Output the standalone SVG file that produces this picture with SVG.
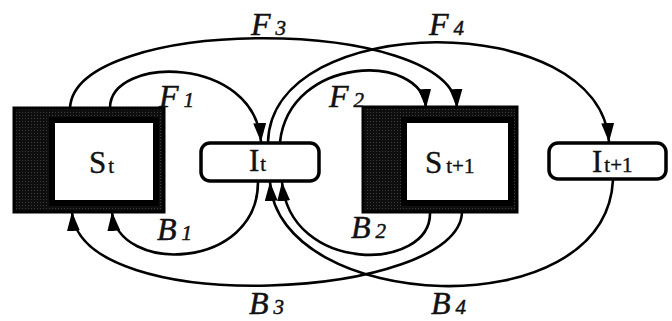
<svg xmlns="http://www.w3.org/2000/svg" width="672" height="321" viewBox="0 0 672 321">
  <style>
    .conn { fill: none; stroke: #000; stroke-width: 2.6; marker-end: url(#ah); }
    .frame { fill: url(#stip); stroke: #000; stroke-width: 3; }
    .inner { fill: #fff; stroke: #000; stroke-width: 6; }
    .ibox { fill: #fff; stroke: #000; stroke-width: 3.5; }
    .lbl { font-family: "Liberation Serif", "DejaVu Serif", serif; font-size: 31px; fill: #111; stroke: #111; stroke-width: 0.4; }
    .sub { font-size: 21px; }
    .el { font-family: "Liberation Serif", "DejaVu Serif", serif; font-style: italic; font-size: 32px; fill: #111; stroke: #111; stroke-width: 0.5; }
    .es { font-size: 21px; }
  </style>
  <defs>
    <pattern id="stip" width="3" height="3" patternUnits="userSpaceOnUse">
      <rect width="3" height="3" fill="#0e0e0e"/>
      <rect x="1" y="1" width="1" height="1" fill="#3c3c3c"/>
    </pattern>
    <marker id="ah" markerUnits="userSpaceOnUse" markerWidth="20" markerHeight="14" refX="19" refY="6.5" orient="auto">
      <path d="M0,0 L19,6.5 L0,13 z" fill="#000"/>
    </marker>
  </defs>

  <g id="connectors">
    <path id="F1" class="conn" d="M110,108 C110,55 255,55 261,142"/>
    <path id="F3" class="conn" d="M70,108 C75,15 452,15 457,108"/>
    <path id="F4" class="conn" d="M268,142 C272,10 600,8 609,142"/>
    <path id="F2" class="conn" d="M280,142 C290,55 422,52 426,108"/>
    <path id="B1" class="conn" d="M258,182 C258,270 118,275 112,212"/>
    <path id="B3" class="conn" d="M462,212 C460,300 80,320 72,212"/>
    <path id="B2" class="conn" d="M430,212 C432,272 290,275 282,182"/>
    <path id="B4" class="conn" d="M613,180 C605,330 278,312 270,182"/>
  </g>

  <g id="node-St">
    <rect class="frame" x="14" y="108" width="150" height="104"/>
    <rect class="inner" x="52" y="120" width="104" height="83"/>
    <text class="lbl" x="89" y="173">S<tspan class="sub" dx="2">t</tspan></text>
  </g>

  <g id="node-It">
    <rect class="ibox" x="201" y="143" width="118" height="38" rx="9"/>
    <text class="lbl" x="249" y="171">I<tspan class="sub" dx="1">t</tspan></text>
  </g>

  <g id="node-St1">
    <rect class="frame" x="363" y="107" width="154" height="105"/>
    <rect class="inner" x="404" y="120" width="107" height="83"/>
    <text class="lbl" x="425" y="173">S<tspan class="sub" dx="4">t+1</tspan></text>
  </g>

  <g id="node-It1">
    <rect class="ibox" x="549" y="143" width="117" height="36" rx="9"/>
    <text class="lbl" x="592" y="172">I<tspan class="sub" dx="2">t+1</tspan></text>
  </g>

  <g id="labels">
    <text class="el" x="159" y="107">F<tspan class="es" dx="5">1</tspan></text>
    <text class="el" x="329" y="107">F<tspan class="es" dx="5">2</tspan></text>
    <text class="el" x="251" y="35">F<tspan class="es" dx="5">3</tspan></text>
    <text class="el" x="429" y="35">F<tspan class="es" dx="5">4</tspan></text>
    <text class="el" x="157" y="240">B<tspan class="es" dx="5">1</tspan></text>
    <text class="el" x="351" y="238">B<tspan class="es" dx="5">2</tspan></text>
    <text class="el" x="249" y="314">B<tspan class="es" dx="5">3</tspan></text>
    <text class="el" x="431" y="314">B<tspan class="es" dx="5">4</tspan></text>
  </g>
</svg>
